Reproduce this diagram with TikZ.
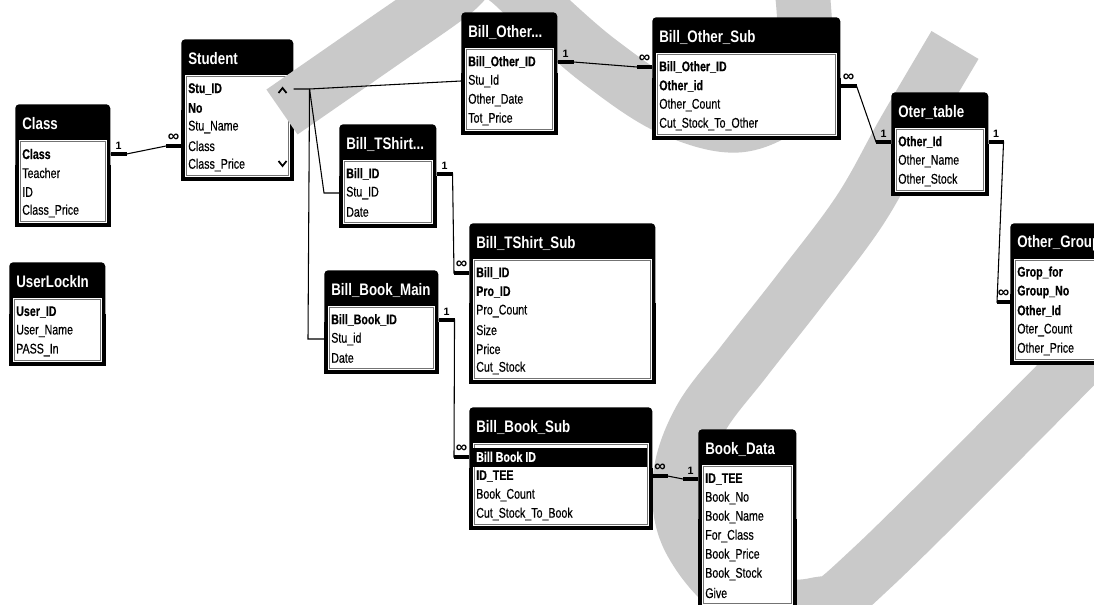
\documentclass[tikz,border=0pt]{standalone}
\usepackage{fontspec}
\setmainfont{Liberation Sans}
\newfontfamily\fieldfont[FakeStretch=0.76,FakeBold=0.4]{Liberation Sans}
\newfontfamily\titlefont[FakeStretch=0.8]{Liberation Sans}
\usetikzlibrary{calc,positioning}
\definecolor{wmgrey}{gray}{0.79}
\tikzstyle{tabframe}=[fill=black,rounded corners=3pt,inner sep=0pt,anchor=north west]
\tikzstyle{tabtitle}=[text=white,font=\titlefont\bfseries\fontsize{12.5}{14}\selectfont,inner sep=0pt,anchor=west]
\tikzstyle{field}=[font=\fieldfont\fontsize{10.5}{12}\selectfont,inner sep=0pt,anchor=west]
\tikzstyle{listbox}=[draw=black!55,line width=0.4pt]
\tikzstyle{rel}=[line width=0.8pt]
\tikzstyle{stub}=[line width=2.3pt]
\tikzstyle{card}=[font=\bfseries\fontsize{8}{9}\selectfont,inner sep=0.5pt,above=2pt]
\tikzstyle{many}=[font=\bfseries\fontsize{12}{12}\selectfont,inner sep=0pt,above=2.5pt]
\tikzstyle{wmark}=[wmgrey,line width=41pt]
\tikzstyle{scroll}=[line width=1.3pt]

\newcommand{\hlrow}[1]{\makebox[0pt][l]{\hspace{-2.25pt}\rule[-3.5pt]{130.5pt}{14.25pt}}\textcolor{white}{\bfseries #1}}
\newcommand{\dbtable}[7]{% name, left, top, width, rows, title, fields
  \pgfmathsetmacro{\tabh}{46+19*#5}
  \node[tabframe,minimum width=#4*0.75pt,minimum height=\tabh*0.75pt] (#1) at (#2,#3) {};
  \fill[black] (#1.west) rectangle (#1.south east);
  \fill[white] ($(#1.north west)+(4,36)$) rectangle ($(#1.south east)+(-4,-4)$);
  \draw[listbox] ($(#1.north west)+(5.5,37.5)$) rectangle ($(#1.south east)+(-5.5,-5.5)$);
  \node[tabtitle] (#1-t) at ($(#1.north west)+(7,20)$) {#6};
  \foreach \f [count=\i] in {#7} \node[field] (#1-\i) at ($(#1.north west)+(7,31+19*\i)$) {\f};
}

\begin{document}
\begin{tikzpicture}[x=0.75pt,y=-0.75pt]
\useasboundingbox (0,0) rectangle (1094,605);
\clip (0,0) rectangle (1094,605);
\fill[white] (0,0) rectangle (1094,605);

\dbtable{student}{181}{39}{112}{5}{Student}{\bfseries Stu\_ID,\bfseries No,Stu\_Name,Class,Class\_Price}
% grey watermark strokes
\draw[wmark] plot[smooth,tension=0.6] coordinates {(282,112) (380,44) (450,-5) (480,-32) (505,-22) (540,10) (600,62) (670,108) (740,125) (795,95) (805,40) (800,-30)};
\draw[wmark] plot[smooth,tension=0.6] coordinates {(955,45) (905,130) (860,210) (800,290) (745,360) (700,420) (680,480) (690,540) (740,595) (815,605) (875,565) (1120,320)};

\dbtable{class}{15}{104}{95}{4}{Class}{\bfseries Class,Teacher,ID,Class\_Price}
\dbtable{userlog}{9}{262}{96}{3}{UserLockIn}{\bfseries User\_ID,User\_Name,PASS\_In}
\dbtable{billother}{461}{12}{96}{4}{Bill\_Other...}{\bfseries Bill\_Other\_ID,Stu\_Id,Other\_Date,Tot\_Price}
\dbtable{othersub}{652}{17}{188}{4}{Bill\_Other\_Sub}{\bfseries Bill\_Other\_ID,\bfseries Other\_id,Other\_Count,Cut\_Stock\_To\_Other}
\dbtable{otertab}{891}{92}{97}{3}{Oter\_table}{\bfseries Other\_Id,Other\_Name,Other\_Stock}
\dbtable{othergroup}{1010}{223}{100}{5}{Other\_Group}{\bfseries Grop\_for,\bfseries Group\_No,\bfseries Other\_Id,Oter\_Count,Other\_Price}
\dbtable{tshirt}{339}{124}{97}{3}{Bill\_TShirt...}{\bfseries Bill\_ID,Stu\_ID,Date}
\dbtable{bookmain}{324}{270}{114}{3}{Bill\_Book\_Main}{\bfseries Bill\_Book\_ID,Stu\_id,Date}
\dbtable{tshirtsub}{469}{223}{186}{6}{Bill\_TShirt\_Sub}{\bfseries Bill\_ID,\bfseries Pro\_ID,Pro\_Count,Size,Price,Cut\_Stock}
\dbtable{booksub}{469}{407}{183}{4}{Bill\_Book\_Sub}{\hlrow{Bill Book ID},\bfseries ID\_TEE,Book\_Count,Cut\_Stock\_To\_Book}
\dbtable{bookdata}{698}{429}{98}{7}{Book\_Data}{\bfseries ID\_TEE,Book\_No,Book\_Name,For\_Class,Book\_Price,Book\_Stock,Give}

% scroll arrows of Student
\draw[scroll] ($(student.north east)+(-15,54)$) -- ++(4,-5) -- ++(4,5);
\draw[scroll] ($(student.north east)+(-15,122)$) -- ++(4,5) -- ++(4,-5);

% relationships
\draw[rel] (class.east |- class-1) -- ++(16,0) coordinate (r1a) -- ($(student.west |- student-4)+(-15,0)$) coordinate (r1b) -- (student.west |- student-4);
\draw[stub] (class.east |- class-1) -- node[card] (k1a) {1} (r1a); \draw[stub] (r1b) -- node[many] (k1b) {∞} (student.west |- student-4);

\draw[rel] (student.east |- student-1) -- ++(16,0) coordinate (hub) -- (billother.west |- billother-2);
\draw[rel] (hub) -- ($(tshirt.west |- tshirt-2)+(-15,0)$) -- (tshirt.west |- tshirt-2);
\draw[rel] (hub) -- ($(bookmain.west |- bookmain-2)+(-16,0)$) -- (bookmain.west |- bookmain-2);

\draw[rel] (billother.east |- billother-1) -- ++(16,0) coordinate (r5a) -- ($(othersub.west |- othersub-1)+(-15,0)$) coordinate (r5b) -- (othersub.west |- othersub-1);
\draw[stub] (billother.east |- billother-1) -- node[card] (k5a) {1} (r5a); \draw[stub] (r5b) -- node[many] (k5b) {∞} (othersub.west |- othersub-1);

\draw[rel] (othersub.east |- othersub-2) -- ++(16,0) coordinate (r6a) -- ($(otertab.west |- otertab-1)+(-15,0)$) coordinate (r6b) -- (otertab.west |- otertab-1);
\draw[stub] (othersub.east |- othersub-2) -- node[many] (k6a) {∞} (r6a); \draw[stub] (r6b) -- node[card] (k6b) {1} (otertab.west |- otertab-1);

\coordinate (ogin) at ($(othergroup.west |- othergroup-3)+(0,-9)$);
\draw[rel] (otertab.east |- otertab-1) -- ++(15,0) coordinate (r7a) -- ($(ogin)+(-13,0)$) coordinate (r7b) -- (ogin);
\draw[stub] (otertab.east |- otertab-1) -- node[card] (k7a) {1} (r7a); \draw[stub] (r7b) -- node[many] (k7b) {∞} (ogin);

\draw[rel] (tshirt.east |- tshirt-1) -- ++(16,0) coordinate (r8a) -- ($(tshirtsub.west |- tshirtsub-1)+(-15,0)$) coordinate (r8b) -- (tshirtsub.west |- tshirtsub-1);
\draw[stub] (tshirt.east |- tshirt-1) -- node[card] (k8a) {1} (r8a); \draw[stub] (r8b) -- node[many] (k8b) {∞} (tshirtsub.west |- tshirtsub-1);

\draw[rel] (bookmain.east |- bookmain-1) -- ++(16,0) coordinate (r9a) -- ($(booksub.west |- booksub-1)+(-15,0)$) coordinate (r9b) -- (booksub.west |- booksub-1);
\draw[stub] (bookmain.east |- bookmain-1) -- node[card] (k9a) {1} (r9a); \draw[stub] (r9b) -- node[many] (k9b) {∞} (booksub.west |- booksub-1);

\draw[rel] (booksub.east |- booksub-2) -- ++(15,0) coordinate (r10a) -- ($(bookdata.west |- bookdata-1)+(-15,0)$) coordinate (r10b) -- (bookdata.west |- bookdata-1);
\draw[stub] (booksub.east |- booksub-2) -- node[many] (k10a) {∞} (r10a); \draw[stub] (r10b) -- node[card] (k10b) {1} (bookdata.west |- bookdata-1);
\end{tikzpicture}
\end{document}
